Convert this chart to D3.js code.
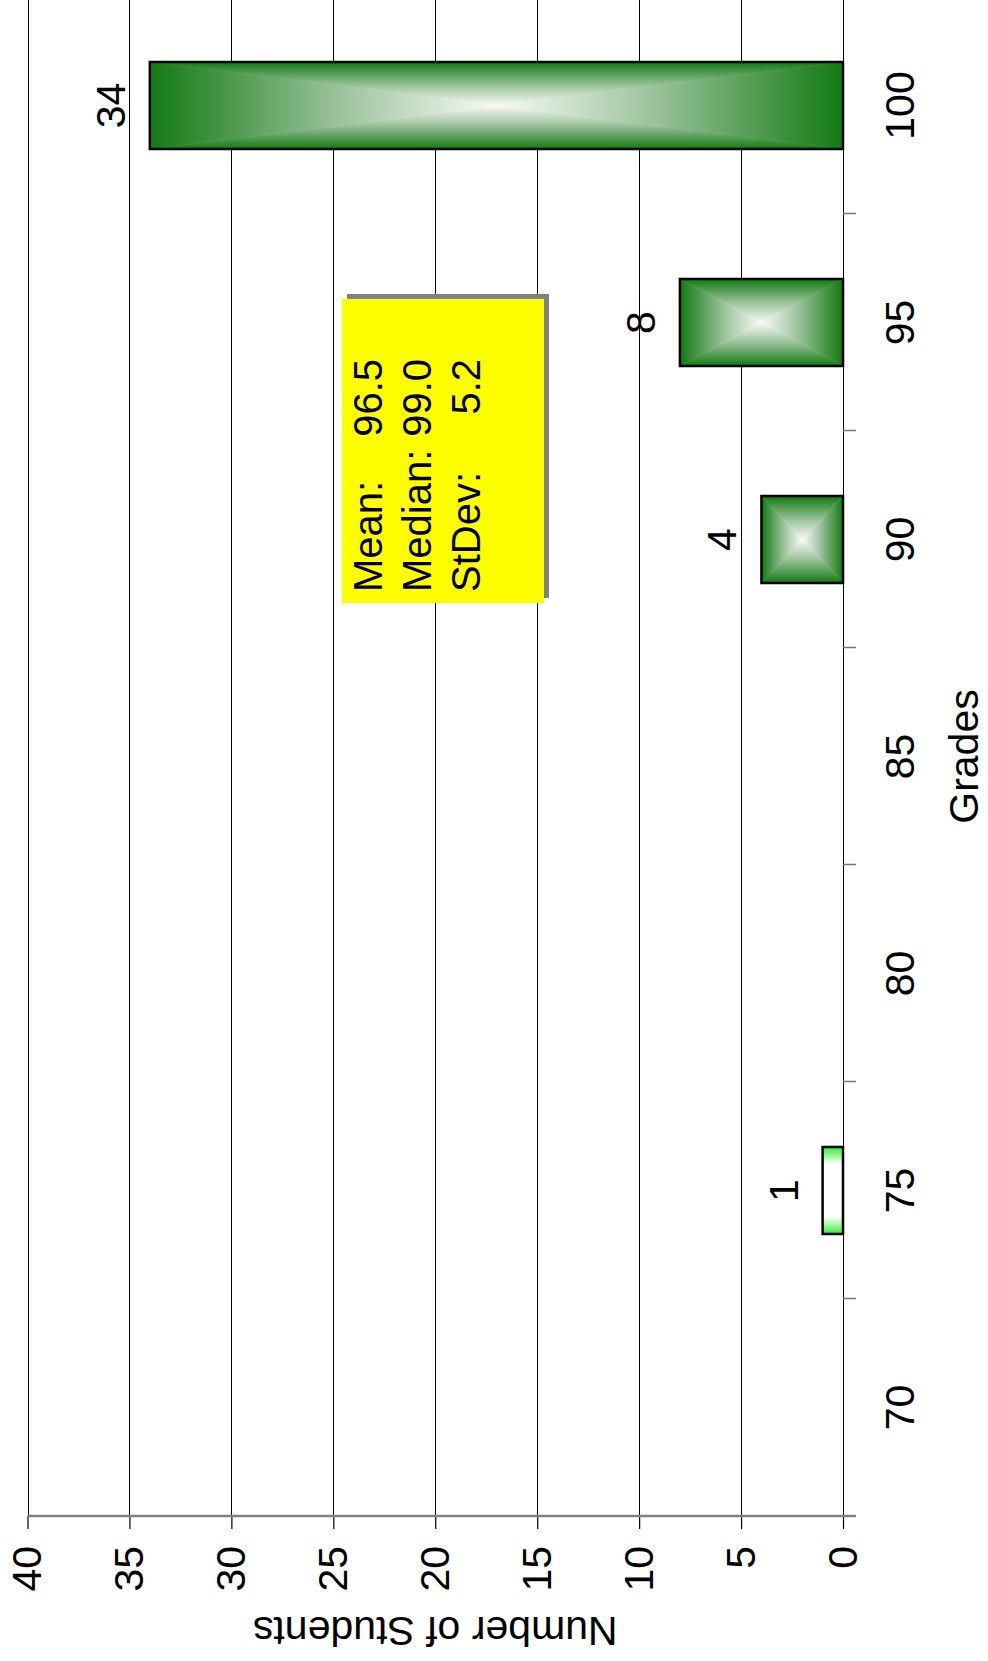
<!DOCTYPE html>
<html>
<head>
<meta charset="utf-8">
<script src="https://cdn.jsdelivr.net/npm/d3@7"></script>
<style>
body { margin: 0; background: #fff; }
text { font-family: "Liberation Sans", Arial, sans-serif; fill: #000; }
</style>
</head>
<body>
<div id="chart"></div>
<script>
// data
var grades = [70, 75, 80, 85, 90, 95, 100];
var counts = [0, 1, 0, 0, 4, 8, 34];
var countTicks = [0, 5, 10, 15, 20, 25, 30, 35, 40];
var statNames = ["Mean:", "Median:", "StDev:"];
var statValues = ["96.5", "99.0", "5.2"];

var w = 988, h = 1661;
var svg = d3.select("#chart").append("svg")
    .attr("width", w)
    .attr("height", h);
var defs = svg.append("defs");

// the whole chart lies on its side, so draw it upright and turn it
var g = svg.append("g")
    .attr("transform", "translate(0," + h + ") rotate(-90)");

var x = d3.scaleLinear().domain([67.5, 102.5]).range([145, 1664]);
var y = d3.scaleLinear().domain([0, 40]).range([843, 27.5]);
var barW = 87;
var fontPx = 41;

// grid lines
g.selectAll("line.grid")
    .data(countTicks)
    .enter().append("line")
    .attr("class", "grid")
    .attr("x1", x(67.5)).attr("x2", x(102.5) + 10)
    .attr("y1", function(d) { return Math.round(y(d)) + 0.5; })
    .attr("y2", function(d) { return Math.round(y(d)) + 0.5; })
    .attr("stroke", "#000")
    .attr("stroke-width", 1);

// separators between grade classes
var sepTicks = d3.range(72.5, 102, 5);
var xAxis = g.append("g")
    .attr("transform", "translate(0," + y(0) + ")")
    .call(d3.axisBottom(x).tickValues(sepTicks).tickFormat("").tickSize(13).tickSizeOuter(0));
xAxis.select(".domain").remove();
xAxis.selectAll(".tick line").attr("stroke", "#777").attr("stroke-width", 1.5);

g.selectAll("text.grade")
    .data(grades)
    .enter().append("text")
    .attr("class", "grade")
    .attr("x", function(d) { return x(d); })
    .attr("y", 914)
    .attr("text-anchor", "middle")
    .attr("font-size", fontPx)
    .text(function(d) { return d; });

g.append("text")
    .attr("x", (x(67.5) + x(102.5)) / 2)
    .attr("y", 978)
    .attr("text-anchor", "middle")
    .attr("font-size", fontPx)
    .text("Grades");

// count axis
var yAxis = g.append("g")
    .attr("transform", "translate(" + x(67.5) + ",0)")
    .call(d3.axisLeft(y).tickValues(countTicks).tickSize(13).tickPadding(17).tickSizeOuter(0));
yAxis.select(".domain").remove();
yAxis.selectAll(".tick line").attr("stroke", "#000").attr("stroke-width", 1.2);
yAxis.selectAll(".tick text")
    .attr("font-size", fontPx)
    .attr("font-family", "Liberation Sans, Arial, sans-serif")
    .attr("fill", "#000");
g.append("line")
    .attr("x1", x(67.5)).attr("x2", x(67.5))
    .attr("y1", y(40)).attr("y2", y(0) + 13)
    .attr("stroke", "#808080")
    .attr("stroke-width", 2.5);

g.append("text")
    .attr("transform", "translate(44," + (y(0) + y(40)) / 2 + ") rotate(-90)")
    .attr("text-anchor", "middle")
    .attr("font-size", fontPx)
    .text("Number of Students");

// bars with a gradient running from each edge to the middle
var bars = grades.map(function(gr, i) { return { grade: gr, n: counts[i] }; })
    .filter(function(d) { return d.n > 0; });

function addGrad(id, from, to, stops) {
    var lg = defs.append("linearGradient")
        .attr("id", id)
        .attr("gradientUnits", "userSpaceOnUse")
        .attr("x1", from[0]).attr("y1", from[1])
        .attr("x2", to[0]).attr("y2", to[1]);
    stops.forEach(function(s) {
        lg.append("stop").attr("offset", s[0]).attr("stop-color", s[1]);
    });
    return "url(#" + id + ")";
}

bars.forEach(function(d, i) {
    var x0 = x(d.grade) - barW / 2, x1 = x0 + barW;
    var y0 = y(d.n), y1 = y(0);
    var cx = (x0 + x1) / 2, cy = (y0 + y1) / 2;
    var bg = g.append("g");

    if (d.n < 2) {
        var lime = addGrad("lime" + i, [x0, cy], [x1, cy],
            [[0, "#33ee33"], [0.2, "#ffffff"], [0.8, "#ffffff"], [1, "#33ee33"]]);
        bg.append("rect")
            .attr("x", x0).attr("y", y0)
            .attr("width", barW).attr("height", y1 - y0)
            .attr("fill", lime);
    } else {
        var stops = [[0, "#127a12"], [0.55, "#9cc39c"], [1, "#f8faf8"]];
        var sides = [
            { pts: [[x0, y0], [x1, y0], [cx, cy]], from: [cx, y0] },
            { pts: [[x0, y1], [x1, y1], [cx, cy]], from: [cx, y1] },
            { pts: [[x0, y0], [x0, y1], [cx, cy]], from: [x0, cy] },
            { pts: [[x1, y0], [x1, y1], [cx, cy]], from: [x1, cy] }
        ];
        sides.forEach(function(s, k) {
            var f = addGrad("bar" + i + "_" + k, s.from, [cx, cy], stops);
            bg.append("polygon")
                .attr("points", s.pts.map(function(p) { return p.join(","); }).join(" "))
                .attr("fill", f)
                .attr("stroke", f)
                .attr("stroke-width", 0.6);
        });
    }
    bg.append("rect")
        .attr("x", x0).attr("y", y0)
        .attr("width", barW).attr("height", y1 - y0)
        .attr("fill", "none")
        .attr("stroke", "#000")
        .attr("stroke-width", 2.5);

    g.append("text")
        .attr("x", cx)
        .attr("y", y0 - 25)
        .attr("text-anchor", "middle")
        .attr("font-size", fontPx)
        .text(d.n);
});

// stats box
var bx = 1058, by = 342, bw = 304, bh = 202;
g.append("rect")
    .attr("x", bx + 5).attr("y", by + 5)
    .attr("width", bw).attr("height", bh)
    .attr("fill", "#808080");
g.append("rect")
    .attr("x", bx).attr("y", by)
    .attr("width", bw).attr("height", bh)
    .attr("fill", "#ffff00");

g.selectAll("text.statName")
    .data(statNames)
    .enter().append("text")
    .attr("class", "statName")
    .attr("x", 1069)
    .attr("y", function(d, i) { return 382 + i * 49; })
    .attr("font-size", 40)
    .text(function(d) { return d; });

g.selectAll("text.statVal")
    .data(statValues)
    .enter().append("text")
    .attr("class", "statVal")
    .attr("x", 1302)
    .attr("y", function(d, i) { return 382 + i * 49; })
    .attr("text-anchor", "end")
    .attr("font-size", 40)
    .text(function(d) { return d; });
</script>
</body>
</html>
